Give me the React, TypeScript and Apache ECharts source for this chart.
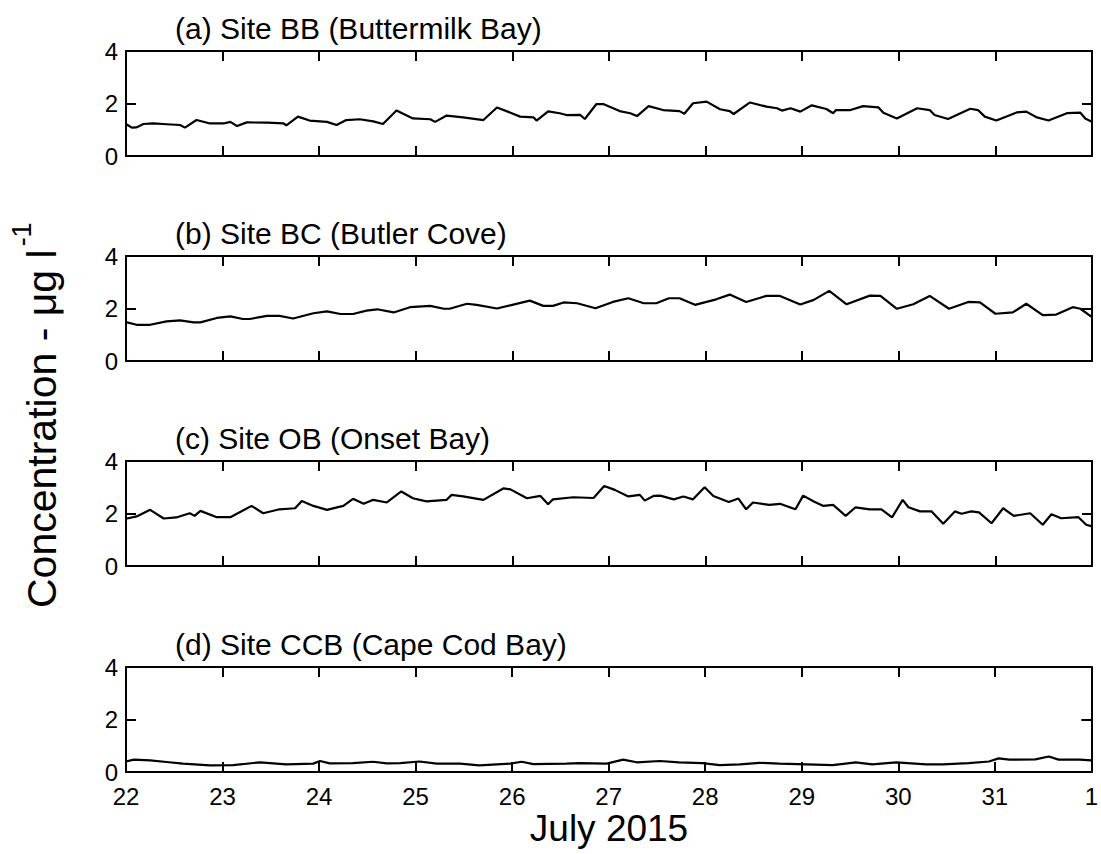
import React, { useEffect, useRef } from "react";
import * as echarts from "echarts";

// Time axis: day of July 2015 (32 = 1 August)
const dayTicks = [22, 23, 24, 25, 26, 27, 28, 29, 30, 31, 32];
const concTicks = [0, 2, 4];

const panelTitles = [
  "(a) Site BB (Buttermilk Bay)",
  "(b) Site BC (Butler Cove)",
  "(c) Site OB (Onset Bay)",
  "(d) Site CCB (Cape Cod Bay)",
];

const bbDays = [22.0, 22.06, 22.11, 22.18, 22.28, 22.42, 22.56, 22.61, 22.73, 22.87, 23.01, 23.08, 23.15, 23.25, 23.46, 23.63, 23.66, 23.78, 23.9, 24.08, 24.18, 24.28, 24.42, 24.56, 24.66, 24.8, 24.97, 25.15, 25.2, 25.32, 25.49, 25.7, 25.84, 25.98, 26.08, 26.22, 26.25, 26.37, 26.49, 26.56, 26.7, 26.75, 26.87, 26.94, 27.11, 27.22, 27.29, 27.41, 27.56, 27.73, 27.78, 27.87, 28.01, 28.15, 28.25, 28.29, 28.46, 28.63, 28.74, 28.79, 28.88, 28.98, 29.1, 29.25, 29.32, 29.35, 29.5, 29.63, 29.79, 29.84, 29.98, 30.19, 30.32, 30.37, 30.51, 30.74, 30.82, 30.89, 31.01, 31.22, 31.32, 31.43, 31.55, 31.74, 31.88, 31.93, 32.0];
const bbConc = [1.22, 1.08, 1.09, 1.22, 1.24, 1.21, 1.18, 1.08, 1.37, 1.24, 1.24, 1.3, 1.14, 1.28, 1.27, 1.24, 1.17, 1.5, 1.35, 1.3, 1.18, 1.37, 1.4, 1.32, 1.22, 1.73, 1.43, 1.4, 1.3, 1.54, 1.47, 1.37, 1.85, 1.65, 1.5, 1.47, 1.35, 1.7, 1.63, 1.56, 1.57, 1.41, 1.98, 1.98, 1.71, 1.63, 1.52, 1.9, 1.75, 1.71, 1.61, 2.01, 2.07, 1.78, 1.71, 1.6, 2.04, 1.88, 1.82, 1.73, 1.82, 1.69, 1.93, 1.79, 1.63, 1.75, 1.75, 1.9, 1.85, 1.65, 1.43, 1.82, 1.75, 1.56, 1.41, 1.8, 1.75, 1.5, 1.35, 1.66, 1.69, 1.47, 1.35, 1.63, 1.65, 1.43, 1.3];

const bcDays = [22.0, 22.11, 22.25, 22.42, 22.56, 22.7, 22.77, 22.94, 23.08, 23.21, 23.28, 23.46, 23.59, 23.73, 23.94, 24.08, 24.22, 24.35, 24.49, 24.6, 24.77, 24.94, 25.15, 25.29, 25.35, 25.53, 25.63, 25.84, 26.01, 26.18, 26.32, 26.42, 26.53, 26.67, 26.86, 27.04, 27.2, 27.36, 27.49, 27.62, 27.73, 27.89, 28.11, 28.25, 28.42, 28.63, 28.77, 28.98, 29.12, 29.28, 29.46, 29.7, 29.81, 29.98, 30.15, 30.32, 30.52, 30.72, 30.84, 31.0, 31.18, 31.32, 31.49, 31.63, 31.8, 31.88, 32.0];
const bcConc = [1.48, 1.38, 1.38, 1.51, 1.55, 1.47, 1.47, 1.64, 1.7, 1.6, 1.6, 1.72, 1.72, 1.62, 1.82, 1.89, 1.79, 1.79, 1.92, 1.97, 1.85, 2.05, 2.1, 1.99, 1.99, 2.18, 2.14, 2.0, 2.15, 2.3, 2.1, 2.1, 2.23, 2.2, 2.01, 2.25, 2.39, 2.2, 2.2, 2.39, 2.39, 2.14, 2.35, 2.53, 2.25, 2.48, 2.48, 2.15, 2.33, 2.67, 2.16, 2.49, 2.48, 1.99, 2.16, 2.48, 1.99, 2.25, 2.23, 1.8, 1.85, 2.18, 1.75, 1.77, 2.05, 1.99, 1.67];

const obDays = [22.0, 22.11, 22.25, 22.39, 22.52, 22.66, 22.71, 22.77, 22.94, 23.08, 23.3, 23.42, 23.59, 23.75, 23.82, 23.94, 24.08, 24.25, 24.35, 24.46, 24.56, 24.7, 24.85, 24.97, 25.11, 25.32, 25.37, 25.49, 25.7, 25.91, 25.98, 26.15, 26.29, 26.37, 26.42, 26.63, 26.84, 26.95, 27.06, 27.2, 27.32, 27.37, 27.46, 27.53, 27.67, 27.77, 27.87, 27.99, 28.08, 28.24, 28.34, 28.42, 28.49, 28.66, 28.77, 28.93, 29.01, 29.12, 29.22, 29.32, 29.45, 29.55, 29.7, 29.82, 29.93, 30.04, 30.1, 30.22, 30.34, 30.46, 30.58, 30.65, 30.75, 30.83, 30.96, 31.08, 31.19, 31.36, 31.49, 31.58, 31.68, 31.86, 31.94, 32.0];
const obConc = [1.8, 1.89, 2.14, 1.81, 1.85, 2.01, 1.91, 2.1, 1.86, 1.86, 2.29, 2.01, 2.16, 2.2, 2.48, 2.29, 2.14, 2.29, 2.56, 2.37, 2.52, 2.42, 2.84, 2.58, 2.46, 2.52, 2.71, 2.65, 2.52, 2.96, 2.92, 2.58, 2.67, 2.35, 2.54, 2.62, 2.59, 3.05, 2.9, 2.65, 2.71, 2.49, 2.67, 2.68, 2.54, 2.65, 2.54, 3.0, 2.67, 2.44, 2.57, 2.16, 2.42, 2.33, 2.37, 2.16, 2.68, 2.46, 2.29, 2.33, 1.91, 2.23, 2.16, 2.16, 1.85, 2.52, 2.24, 2.08, 2.08, 1.61, 2.08, 1.99, 2.08, 2.04, 1.63, 2.2, 1.91, 2.01, 1.57, 1.97, 1.82, 1.86, 1.57, 1.51];

const ccbDays = [22.0, 22.08, 22.25, 22.42, 22.59, 22.87, 23.11, 23.39, 23.66, 23.94, 24.01, 24.11, 24.35, 24.56, 24.7, 24.84, 25.04, 25.22, 25.46, 25.66, 25.98, 26.1, 26.22, 26.56, 26.7, 26.98, 27.15, 27.29, 27.53, 27.73, 27.97, 28.15, 28.36, 28.56, 28.77, 29.05, 29.32, 29.56, 29.73, 29.98, 30.29, 30.46, 30.73, 30.94, 31.04, 31.15, 31.42, 31.56, 31.66, 31.88, 32.0];
const ccbConc = [0.4, 0.47, 0.44, 0.38, 0.32, 0.25, 0.26, 0.37, 0.29, 0.32, 0.42, 0.33, 0.34, 0.39, 0.33, 0.34, 0.4, 0.32, 0.32, 0.25, 0.32, 0.39, 0.3, 0.32, 0.34, 0.32, 0.47, 0.37, 0.42, 0.37, 0.34, 0.26, 0.29, 0.35, 0.32, 0.29, 0.26, 0.37, 0.29, 0.37, 0.29, 0.29, 0.34, 0.4, 0.52, 0.47, 0.48, 0.59, 0.47, 0.47, 0.44];

const panels = [
  { days: bbDays, conc: bbConc },
  { days: bcDays, conc: bcConc },
  { days: obDays, conc: obConc },
  { days: ccbDays, conc: ccbConc },
];

const FONT = "Liberation Sans";
const gridTops = [51, 256, 461, 667];
const gridHeight = 105;
const gridLeft = 126;
const gridRight = 9;
const yLabelMain = "Concentration - \u03bcg l";
const yLabelSup = "-1";
const yLabelSize = 41;

function measure(text: string, size: number): number {
  const ctx = document.createElement("canvas").getContext("2d");
  if (!ctx) return text.length * size * 0.5;
  ctx.font = `${size}px "${FONT}"`;
  return ctx.measureText(text).width;
}

export default function App() {
  const ref = useRef<HTMLDivElement | null>(null);

  useEffect(() => {
    if (!ref.current) return;
    const chart = echarts.init(ref.current, undefined, { renderer: "svg" });

    const grids: any[] = [];
    const xAxes: any[] = [];
    const yAxes: any[] = [];
    const series: any[] = [];
    const axisLine = { show: true, onZero: false, lineStyle: { color: "#000", width: 2 } };
    // inward ticks on every side of each frame
    const tick = { show: true, inside: true, length: 10, lineStyle: { color: "#000", width: 2 } };

    panels.forEach((p, i) => {
      grids.push({ left: gridLeft, right: gridRight, top: gridTops[i], height: gridHeight });
      const xBase = {
        type: "value",
        gridIndex: i,
        min: dayTicks[0],
        max: dayTicks[dayTicks.length - 1],
        interval: 1,
        axisLine,
        axisTick: tick,
        splitLine: { show: false },
      };
      xAxes.push({
        ...xBase,
        position: "bottom",
        axisLabel: {
          show: i === panels.length - 1,
          fontSize: 24,
          fontFamily: FONT,
          color: "#000",
          margin: 12,
          formatter: (v: number) => (v === 32 ? "1" : String(v)),
        },
      });
      xAxes.push({ ...xBase, position: "top", axisLabel: { show: false } });

      const yBase = {
        type: "value",
        gridIndex: i,
        min: concTicks[0],
        max: concTicks[concTicks.length - 1],
        interval: 2,
        axisLine,
        axisTick: tick,
        splitLine: { show: false },
      };
      yAxes.push({
        ...yBase,
        position: "left",
        axisLabel: { show: true, fontSize: 24, fontFamily: FONT, color: "#000", margin: 8 },
      });
      yAxes.push({ ...yBase, position: "right", axisLabel: { show: false } });

      series.push({
        type: "line",
        xAxisIndex: 2 * i,
        yAxisIndex: 2 * i,
        showSymbol: false,
        lineStyle: { color: "#000", width: 2.2 },
        data: p.days.map((d, k) => [d, p.conc[k]]),
      });
    });

    const graphics: any[] = panelTitles.map((t, i) => ({
      type: "text",
      x: 175,
      y: gridTops[i] - 23,
      style: { text: t, fontSize: 30, fontFamily: FONT, fill: "#000", align: "left", verticalAlign: "middle" },
    }));

    // Rotated y-axis title with a superscript exponent
    const mainLen = measure(yLabelMain, yLabelSize);
    const bottomY = 608;
    graphics.push({
      type: "text",
      x: 42,
      y: bottomY,
      rotation: Math.PI / 2,
      style: { text: yLabelMain, fontSize: yLabelSize, fontFamily: FONT, fill: "#000", align: "left", verticalAlign: "middle" },
    });
    graphics.push({
      type: "text",
      x: 22,
      y: bottomY - mainLen - 3,
      rotation: Math.PI / 2,
      style: { text: yLabelSup, fontSize: 27, fontFamily: FONT, fill: "#000", align: "left", verticalAlign: "middle" },
    });
    graphics.push({
      type: "text",
      x: (gridLeft + 1101 - gridRight) / 2,
      y: 828,
      style: { text: "July 2015", fontSize: 37, fontFamily: FONT, fill: "#000", align: "center", verticalAlign: "middle" },
    });

    chart.setOption({
      animation: false,
      backgroundColor: "#fff",
      grid: grids,
      xAxis: xAxes,
      yAxis: yAxes,
      series,
      graphic: graphics,
    });

    return () => chart.dispose();
  }, []);

  return <div ref={ref} style={{ position: "absolute", left: 0, top: 0, width: 1101, height: 854 }} />;
}
